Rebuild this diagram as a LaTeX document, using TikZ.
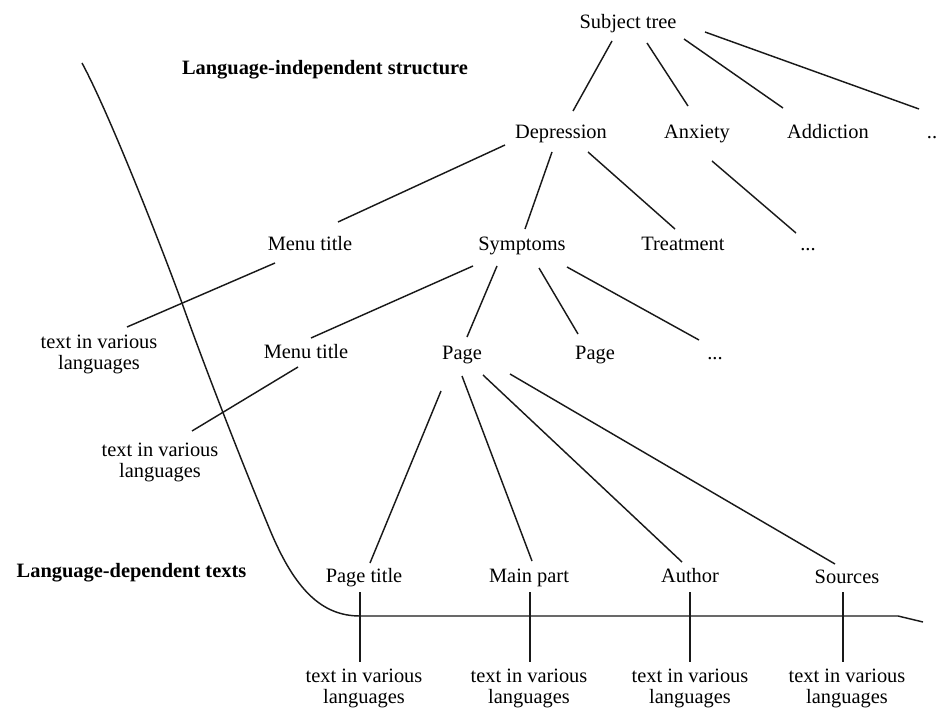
\documentclass[tikz,border=0pt]{standalone}
\usepackage{fontspec}
\setmainfont{Liberation Serif}
\usetikzlibrary{calc}
\tikzset{
  lbl/.style={anchor=base, inner sep=0pt, font=\fontsize{20.4}{20.5}\selectfont},
  multi/.style={lbl, align=center},
  head/.style={lbl, font=\fontsize{20.4}{20.5}\selectfont\bfseries},
  edge/.style={line width=1.45pt, color=black!90},
}
\begin{document}
\begin{tikzpicture}[x=1pt,y=-1pt]
\useasboundingbox (0,0) rectangle (938,709);
% headings
\node[head] (hind) at (325,75) {Language-independent structure};
\node[head] (hdep) at (131.5,577) {Language-dependent texts};
% tree nodes
\node[lbl] (subj) at (628,28.5) {Subject tree};
\node[lbl] (dep) at (561,139) {Depression};
\node[lbl] (anx) at (697,139) {Anxiety};
\node[lbl] (addi) at (828,139) {Addiction};
\node[lbl] (dotsa) at (932,139) {..};
\node[lbl] (menua) at (310,250) {Menu title};
\node[lbl] (symp) at (522,250) {Symptoms};
\node[lbl] (treat) at (683,250) {Treatment};
\node[lbl] (dotsb) at (808,250) {...};
\node[multi] (txta) at (99,369) {text in various\\languages};
\node[lbl] (menub) at (306,358.5) {Menu title};
\node[lbl] (pagea) at (462,359) {Page};
\node[lbl] (pageb) at (595,359) {Page};
\node[lbl] (dotsc) at (715,359) {...};
\node[multi] (txtb) at (160,477) {text in various\\languages};
\node[lbl] (ptitle) at (364,582) {Page title};
\node[lbl] (mainp) at (529,582) {Main part};
\node[lbl] (auth) at (690,582) {Author};
\node[lbl] (srcs) at (847,583) {Sources};
\node[multi] (txtc) at (364,703) {text in various\\languages};
\node[multi] (txtd) at (529,703) {text in various\\languages};
\node[multi] (txte) at (690,703) {text in various\\languages};
\node[multi] (txtf) at (847,703) {text in various\\languages};
% edges
\draw[edge] ($(subj.base)+(-16,12.5)$) -- ($(dep.base)+(12,-28)$);
\draw[edge] ($(subj.base)+(19,14.5)$) -- ($(anx.base)+(-9,-33)$);
\draw[edge] ($(subj.base)+(56,10.5)$) -- ($(addi.base)+(-45,-31)$);
\draw[edge] ($(subj.base)+(77,3.5)$) -- ($(dotsa.base)+(-13,-30)$);
\draw[edge] ($(dep.base)+(-56,6)$) -- ($(menua.base)+(28,-28)$);
\draw[edge] ($(dep.base)+(-9,13)$) -- ($(symp.base)+(3,-21)$);
\draw[edge] ($(dep.base)+(27,13)$) -- ($(treat.base)+(-8,-21)$);
\draw[edge] ($(anx.base)+(15,22)$) -- ($(dotsb.base)+(-12,-17)$);
\draw[edge] ($(menua.base)+(-35,13)$) -- ($(txta.base)+(28,-42)$);
\draw[edge] ($(symp.base)+(-49,16)$) -- ($(menub.base)+(5,-20.5)$);
\draw[edge] ($(symp.base)+(-25,16)$) -- ($(pagea.base)+(5,-22)$);
\draw[edge] ($(symp.base)+(17,18)$) -- ($(pageb.base)+(-17,-25)$);
\draw[edge] ($(symp.base)+(45,17)$) -- ($(dotsc.base)+(-16,-19)$);
\draw[edge] ($(menub.base)+(-8,8.5)$) -- ($(txtb.base)+(32,-46)$);
\draw[edge] ($(pagea.base)+(-21,32)$) -- ($(ptitle.base)+(6,-19)$);
\draw[edge] ($(pagea.base)+(0,17)$) -- ($(mainp.base)+(3,-21)$);
\draw[edge] ($(pagea.base)+(21,16)$) -- ($(auth.base)+(-8,-20)$);
\draw[edge] ($(pagea.base)+(48,15)$) -- ($(srcs.base)+(-12,-19)$);
\draw[edge] ($(ptitle.base)+(-4,10)$) -- ($(txtc.base)+(-4,-41)$);
\draw[edge] ($(mainp.base)+(1,10)$) -- ($(txtd.base)+(1,-41)$);
\draw[edge] ($(auth.base)+(0,10)$) -- ($(txte.base)+(0,-41)$);
\draw[edge] ($(srcs.base)+(-4,9)$) -- ($(txtf.base)+(-4,-41)$);
% separator curve
\coordinate (sepstart) at (82,63);
\coordinate (sepend) at (898,616);
\coordinate (septip) at (923,622);
\draw[edge] (sepstart) .. controls (109,113) and (160,243) .. (182,303)
  .. controls (205,368) and (245,470) .. (270,530)
  .. controls (295,590) and (322,616) .. (360,616) -- (sepend) -- (septip);
\end{tikzpicture}
\end{document}
